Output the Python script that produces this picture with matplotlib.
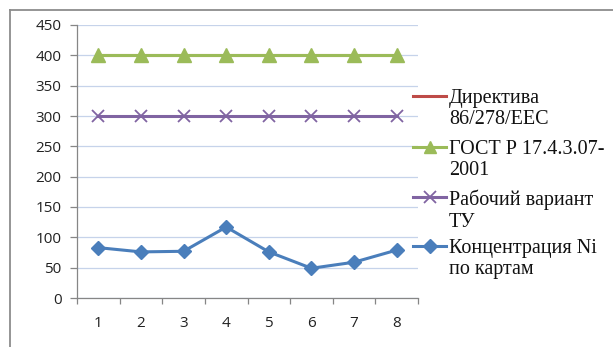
import matplotlib
matplotlib.use("Agg")
import matplotlib.pyplot as plt
from matplotlib.lines import Line2D
from matplotlib.ticker import FixedLocator, NullFormatter

x = [1, 2, 3, 4, 5, 6, 7, 8]
directive = [400, 400, 400, 400, 400, 400, 400, 400]
gost = [400, 400, 400, 400, 400, 400, 400, 400]
working = [300, 300, 300, 300, 300, 300, 300, 300]
ni_conc = [83, 76, 77, 117, 76, 49, 59, 79]
labels = ["Директива\n86/278/EEC", "ГОСТ Р 17.4.3.07-\n2001",
          "Рабочий вариант\nТУ", "Концентрация Ni\nпо картам"]
y_ticks = [0, 50, 100, 150, 200, 250, 300, 350, 400, 450]

W, H = 613, 347
fig = plt.figure(figsize=(W / 100, H / 100), dpi=100)
ax = fig.add_axes([77 / W, 1 - 298 / H, (418 - 77) / W, (298 - 25) / H])

c_red, c_green, c_purple, c_blue = "#be4b48", "#9bbb59", "#8064a2", "#4a7ebb"
styles = [
    dict(color=c_red, lw=2.2, marker=None),
    dict(color=c_green, lw=2.2, marker="^", ms=10),
    dict(color=c_purple, lw=2.2, marker="x", ms=9, mew=1.3),
    dict(color=c_blue, lw=2.2, marker="D", ms=7.5),
]
series = [directive, gost, working, ni_conc]
for s, st, z in zip(series, styles, [2, 3, 3, 3]):
    ax.plot(x, s, zorder=z, clip_on=False, **st)

ax.set_xlim(0.5, 8.5)
ax.set_ylim(0, 450)
ax.set_yticks(y_ticks)
ax.xaxis.set_major_locator(FixedLocator([i + 0.5 for i in range(0, 9)]))
ax.xaxis.set_major_formatter(NullFormatter())
ax.xaxis.set_minor_locator(FixedLocator(x))
ax.set_xticklabels([str(i) for i in x], minor=True)
ax.tick_params(axis="x", which="minor", length=0, pad=13, labelsize=11,
               labelcolor="#222222")
ax.tick_params(axis="x", which="major", length=4.5, color="#868686", width=0.9)
ax.tick_params(axis="y", length=5, color="#868686", width=0.9, pad=6,
               labelsize=11, labelcolor="#222222")
for lab in ax.get_yticklabels() + ax.get_xticklabels(minor=True):
    lab.set_family("Open Sans")
ax.grid(axis="y", color="#c6d3ea", lw=0.9)
ax.set_axisbelow(True)
for sp in ["top", "right"]:
    ax.spines[sp].set_visible(False)
for sp in ["left", "bottom"]:
    ax.spines[sp].set_color("#868686")
    ax.spines[sp].set_linewidth(0.9)

# legend drawn manually
ys = [96, 147, 197, 246]
for lab, st, yy in zip(labels, styles, ys):
    yf = 1 - yy / H
    fig.add_artist(Line2D([413 / W, 446 / W], [yf, yf], transform=fig.transFigure,
                          color=st["color"], lw=st["lw"]))
    if st.get("marker"):
        fig.add_artist(Line2D([429.5 / W], [yf], transform=fig.transFigure,
                              color=st["color"], marker=st["marker"],
                              ms=st.get("ms", 8) * 0.9, mew=st.get("mew", 1)))
    fig.text(449 / W, yf + 7 / H, lab, transform=fig.transFigure,
             ha="left", va="top", fontsize=14.5, family="Liberation Serif",
             linespacing=1.17, color="#111111")

# outer frame
fig.add_artist(Line2D([10 / W, 1.0], [1 - 10 / H, 1 - 10 / H],
                      transform=fig.transFigure, color="#8c8c8c", lw=1.3))
fig.add_artist(Line2D([10 / W, 10 / W], [1 - 10 / H, 0],
                      transform=fig.transFigure, color="#8c8c8c", lw=1.3))

fig.savefig("out.png", dpi=100)
